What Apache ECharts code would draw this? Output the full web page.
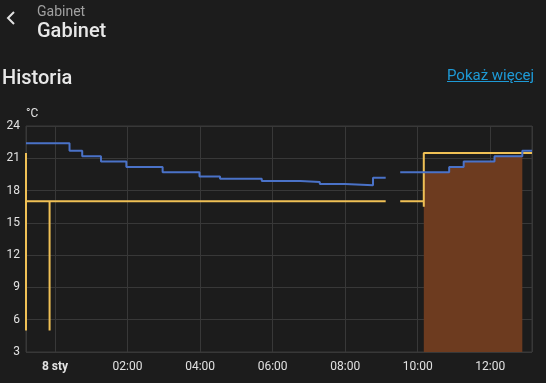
<!DOCTYPE html>
<html>
<head>
<meta charset="utf-8">
<script src="https://cdn.jsdelivr.net/npm/echarts@6/dist/echarts.min.js"></script>
<style>
  html, body { margin:0; padding:0; background:#1c1c1c; width:546px; height:383px; overflow:hidden; font-family: Roboto, "Noto Sans", sans-serif; }
  #chart { position:absolute; left:0; top:0; width:546px; height:383px; }
  .t { position:absolute; white-space:nowrap; }
</style>
</head>
<body>
<div id="chart"></div>
<svg class="t" style="left:4px;top:10px" width="14" height="16" viewBox="0 0 14 16"><polyline points="10,2 4,8 10,14" fill="none" stroke="#e1e1e1" stroke-width="2"/></svg>
<div class="t" style="left:37px;top:3px;font-size:14px;color:#a0a0a0;">Gabinet</div>
<div class="t" style="left:37px;top:18px;font-size:20px;font-weight:500;color:#e8e8e8;">Gabinet</div>
<div class="t" style="left:2px;top:65px;font-size:20px;font-weight:500;color:#e8e8e8;">Historia</div>
<div class="t" style="left:447px;top:66px;font-size:15px;color:#1e9ad6;text-decoration:underline;">Pokaż więcej</div>
<script>
// ---- data ----
const axisMin = '2024-01-07 23:12';
const axisMax = '2024-01-08 13:09';
const yTicks = [3, 6, 9, 12, 15, 18, 21, 24];

const currentTimes = ['2024-01-07 23:12','2024-01-08 00:24','2024-01-08 00:45','2024-01-08 01:16','2024-01-08 01:58','2024-01-08 02:58','2024-01-08 03:59','2024-01-08 04:33','2024-01-08 05:42','2024-01-08 06:46','2024-01-08 07:18','2024-01-08 08:00','2024-01-08 08:46','2024-01-08 09:07','2024-01-08 09:07','2024-01-08 09:31','2024-01-08 10:52','2024-01-08 11:16','2024-01-08 12:07','2024-01-08 12:53','2024-01-08 13:09'];
const currentTemps = [22.4, 21.7, 21.2, 20.7, 20.2, 19.7, 19.3, 19.1, 18.9, 18.8, 18.6, 18.5, 19.2, 19.2, null, 19.7, 20.2, 20.7, 21.2, 21.7, 21.7];

const targetTimes = ['2024-01-07 23:12','2024-01-07 23:12','2024-01-07 23:12','2024-01-07 23:51','2024-01-07 23:51','2024-01-08 09:07','2024-01-08 09:07','2024-01-08 09:31','2024-01-08 10:10','2024-01-08 10:10','2024-01-08 13:09'];
const targetTemps = [21.5, 5, 17, 5, 17, 17, null, 17, 16.5, 21.5, 21.5];

const heatingTimes = ['2024-01-08 10:10','2024-01-08 10:52','2024-01-08 11:16','2024-01-08 12:07','2024-01-08 12:53'];
const heatingTemps = [19.7, 20.2, 20.7, 21.2, 21.2];

function toDate(s) {
  const [d, t] = s.split(' ');
  const [Y, M, D] = d.split('-').map(Number);
  const [h, m] = t.split(':').map(Number);
  return new Date(Y, M - 1, D, h, m).getTime();
}
function zip(ts, vs) { return ts.map((t, i) => [toDate(t), vs[i]]); }

const chart = echarts.init(document.getElementById('chart'), null, { renderer: 'canvas' });
const gridColor = '#383838';
const txt = '#e1e1e1';
chart.setOption({
  backgroundColor: 'transparent',
  animation: false,
  textStyle: { fontFamily: 'Roboto' },
  grid: { left: 26, right: 14, top: 126, bottom: 31, show: true, borderColor: gridColor, borderWidth: 1 },
  xAxis: {
    type: 'time',
    min: toDate(axisMin),
    max: toDate(axisMax),
    splitNumber: 4,
    axisLine: { show: false },
    axisTick: { show: false },
    splitLine: { show: true, lineStyle: { color: gridColor, width: 1 } },
    axisLabel: {
      color: txt, fontSize: 12, margin: 9, hideOverlap: false,
      showMinLabel: false, showMaxLabel: false,
      formatter: function (v) {
        const d = new Date(v);
        const h = d.getHours(), m = d.getMinutes();
        if (h === 0 && m === 0) return '{b|8 sty}';
        return String(h).padStart(2, '0') + ':' + String(m).padStart(2, '0');
      },
      rich: { b: { fontWeight: 'bold', fontSize: 12, color: txt } }
    }
  },
  yAxis: {
    type: 'value',
    min: yTicks[0], max: yTicks[yTicks.length - 1], interval: 3,
    name: '°C',
    nameLocation: 'end',
    nameGap: 6,
    nameTextStyle: { color: txt, fontSize: 12, align: 'left', padding: [0, 0, 0, 0] },
    axisLine: { show: false },
    axisTick: { show: false },
    splitLine: { show: true, lineStyle: { color: gridColor, width: 1 } },
    axisLabel: { color: txt, fontSize: 12, margin: 6 }
  },
  series: [
    {
      name: 'heating', type: 'line', step: 'end', symbol: 'none',
      data: zip(heatingTimes, heatingTemps),
      lineStyle: { width: 0 },
      areaStyle: { color: '#6d3b1f', opacity: 1, origin: 'start' },
      z: 1
    },
    {
      name: 'target', type: 'line', step: 'end', symbol: 'none', connectNulls: false,
      data: zip(targetTimes, targetTemps),
      lineStyle: { color: '#efc055', width: 2 },
      z: 2
    },
    {
      name: 'current', type: 'line', step: 'end', symbol: 'none', connectNulls: false,
      data: zip(currentTimes, currentTemps),
      lineStyle: { color: '#4a72c8', width: 2 },
      z: 3
    }
  ]
});
</script>
</body>
</html>
